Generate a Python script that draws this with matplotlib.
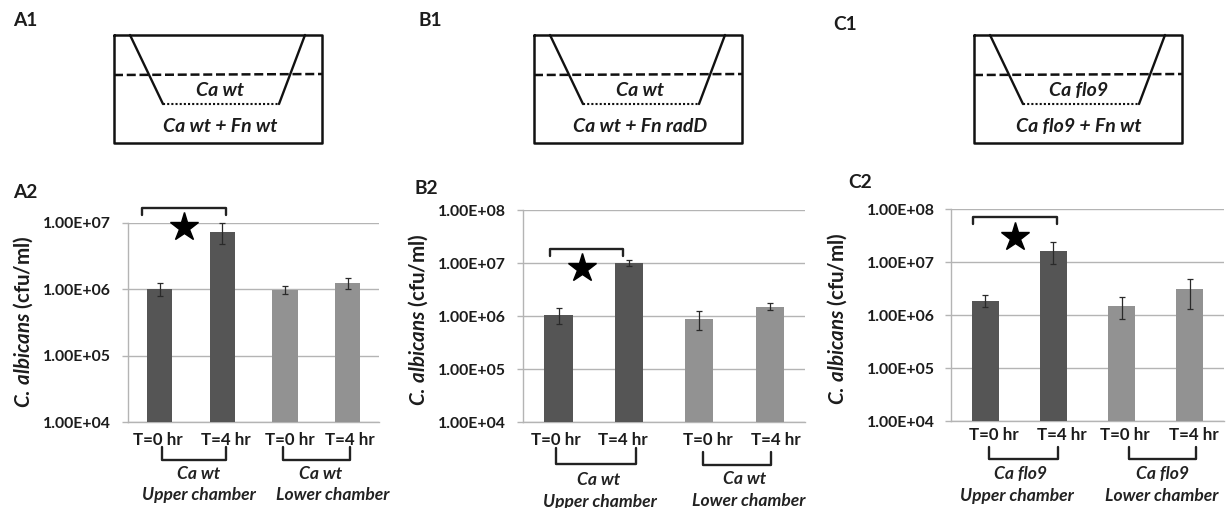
import matplotlib
matplotlib.use("Agg")
import matplotlib.pyplot as plt
from matplotlib.ticker import FixedLocator, FixedFormatter, NullLocator
from matplotlib.transforms import ScaledTranslation

W, H = 1232, 508
plt.rcParams['font.family'] = ['Lato', 'DejaVu Sans']
plt.rcParams['mathtext.fontset'] = 'custom'
plt.rcParams['mathtext.it'] = 'Lato:italic:bold'
plt.rcParams['mathtext.rm'] = 'Lato:bold'

categories = ["T=0 hr", "T=4 hr", "T=0 hr", "T=4 hr"]
ytick_values = [1e4, 1e5, 1e6, 1e7, 1e8]
ytick_names = ["1.00E+04", "1.00E+05", "1.00E+06", "1.00E+07", "1.00E+08"]
y_title_main = r"$\mathit{C.\,albicans}$"
y_title_unit = " (cfu/ml)"

a_values = [1.0e6, 7.4e6, 0.98e6, 1.23e6]
a_upper = [1.23e6, 1.0e7, 1.13e6, 1.46e6]
a_lower = [0.78e6, 4.8e6, 0.86e6, 1.01e6]

b_values = [1.07e6, 1.0e7, 0.89e6, 1.5e6]
b_upper = [1.41e6, 1.14e7, 1.24e6, 1.76e6]
b_lower = [0.73e6, 0.9e7, 0.54e6, 1.3e6]

c_values = [1.89e6, 1.66e7, 1.52e6, 3.14e6]
c_upper = [2.45e6, 2.38e7, 2.25e6, 4.9e6]
c_lower = [1.42e6, 0.94e7, 0.84e6, 1.32e6]

DARK, LIGHT, GRID, INK = "#555555", "#929292", "#b4b4b4", "#1c1c1c"
bar_colors = [DARK, DARK, LIGHT, LIGHT]

fig = plt.figure(figsize=(W / 100, H / 100), dpi=100, facecolor="white")


def bar_panel(box, ymax, vals, hi, lo, label_dx, xpad, ylab_right, ylab_xy):
    left, right, top, bottom = box
    ax = fig.add_axes([left / W, 1 - bottom / H, (right - left) / W, (bottom - top) / H])
    x = list(range(4))
    err = [[v - l for v, l in zip(vals, lo)], [u - v for u, v in zip(hi, vals)]]
    ax.set_yscale("log")
    ax.bar(x, vals, width=0.4, color=bar_colors, zorder=3, bottom=1e4)
    ax.errorbar(x, vals, yerr=err, fmt="none", ecolor="#2a2a2a", elinewidth=0.9,
                capsize=2.4, capthick=0.9, zorder=4, clip_on=False)
    ax.set_xlim(-0.5, 3.5)
    ax.set_ylim(1e4, ymax)
    ticks = [t for t in ytick_values if t <= ymax]
    ax.yaxis.set_major_locator(FixedLocator(ticks))
    ax.yaxis.set_major_formatter(FixedFormatter(ytick_names[:len(ticks)]))
    ax.yaxis.set_minor_locator(NullLocator())
    ax.set_xticks(x, categories)
    ax.grid(axis="y", color=GRID, lw=1.0, zorder=1)
    for s in ("top", "right"):
        ax.spines[s].set_visible(False)
    for s in ("left", "bottom"):
        ax.spines[s].set_color(GRID)
        ax.spines[s].set_linewidth(1.0)
    ax.tick_params(axis="y", length=4, width=1.0, color=GRID, labelsize=11.4,
                   labelcolor=INK, pad=(left - ylab_right - 5.5) * 0.72)
    ax.tick_params(axis="x", length=0, labelsize=12.2, labelcolor=INK, pad=xpad)
    for lab, dx in zip(ax.get_xticklabels(), label_dx):
        lab.set_transform(lab.get_transform() + ScaledTranslation(dx / 100, 0, fig.dpi_scale_trans))
        lab.set_fontweight("bold")
    for lab in ax.get_yticklabels():
        lab.set_fontweight("bold")
    ax.set_ylabel(y_title_main + y_title_unit, fontsize=14.8,
                  fontweight="bold", color=INK, va="center", ha="center")
    ax.yaxis.set_label_coords(ylab_xy[0] / W, 1 - ylab_xy[1] / H, transform=fig.transFigure)
    return ax


bar_panel((128.3, 379, 223, 422), 1e7, a_values, a_upper, a_lower, (-2, 4, 5, 2), 7.2, 111, (23, 322))
bar_panel((523.3, 805, 210.3, 422.3), 1e8, b_values, b_upper, b_lower, (-3, -6, 9, 6), 7.2, 506, (418, 320))
bar_panel((951.3, 1223.7, 209.3, 421.3), 1e8, c_values, c_upper, c_lower, (9, 8, 3, 4), 4.2, 935, (837, 319))

ov = fig.add_axes([0, 0, 1, 1], zorder=10)
ov.set_xlim(0, W)
ov.set_ylim(H, 0)
ov.axis("off")
ov.patch.set_alpha(0)


def panel_tag(x, y, s):
    ov.text(x, y, s, fontsize=13.8, fontweight="bold", color=INK, ha="left", va="center")


def schematic(x0, inner, outer, tx, ty):
    k = dict(color="#111111", solid_capstyle="round")
    ov.plot([x0, x0 + 208, x0 + 208, x0, x0], [35, 35, 143, 143, 35], lw=1.8, **k)
    ov.plot([x0 + 16, x0 + 49], [35, 104], lw=1.7, **k)
    ov.plot([x0 + 191, x0 + 165], [35, 104], lw=1.7, **k)
    ov.plot([x0, x0 + 208], [75, 74], lw=1.8, color="#111111", ls=(0, (3.6, 1.5)))
    ov.plot([x0 + 49, x0 + 165], [104, 104], lw=1.5, color="#111111", ls=(0, (1, 1)))
    ov.text(tx, 90, inner, fontsize=14, fontweight="bold", style="italic", color=INK, ha="center", va="center")
    ov.text(ty, 127, outer, fontsize=14, fontweight="bold", style="italic", color=INK, ha="center", va="center")


def bracket(x1, x2, y_bar, y_end, lw=1.7):
    ov.plot([x1, x1, x2, x2], [y_end, y_bar, y_bar, y_end], color="#222222", lw=lw,
            solid_joinstyle="round", solid_capstyle="round")


def caption(x, y, s):
    ov.text(x, y, s, fontsize=12.6, fontweight="bold", style="italic", color="#222222", ha="center", va="center")


panel_tag(13, 20, "A1")
panel_tag(418, 20, "B1")
panel_tag(833, 24, "C1")
panel_tag(13, 193, "A2")
panel_tag(415, 189, "B2")
panel_tag(848, 183, "C2")

schematic(114, "Ca wt", "Ca wt + Fn wt", 220, 220)
schematic(534, "Ca wt", "Ca wt + Fn radD", 640, 640)
schematic(974, "Ca flo9", "Ca flo9 + Fn wt", 1079, 1079)

for x1, x2, yb, ye, sx, sy in [(142, 226, 208, 215, 184, 227),
                                (550, 623, 249, 256, 582, 268),
                                (973, 1057, 217, 224, 1015, 237)]:
    bracket(x1, x2, yb, ye)
    ov.plot([sx], [sy], marker="*", ms=21, color="black", mec="black")

bracket(162, 226, 460, 447)
bracket(283, 350, 460, 447)
bracket(556, 636, 464, 448)
bracket(703, 771, 465, 452)
bracket(989, 1058, 459, 447)
bracket(1129, 1196, 459, 447)

caption(199, 474, "Ca wt")
caption(199, 495, "Upper chamber")
caption(321, 474, "Ca wt")
caption(333, 495, "Lower chamber")
caption(599, 480, "Ca wt")
caption(600, 502, "Upper chamber")
caption(745, 479, "Ca wt")
caption(749, 501, "Lower chamber")
caption(1021, 474, "Ca flo9")
caption(1017, 496, "Upper chamber")
caption(1163, 474, "Ca flo9")
caption(1162, 496, "Lower chamber")

fig.savefig("out.png", dpi=100)
